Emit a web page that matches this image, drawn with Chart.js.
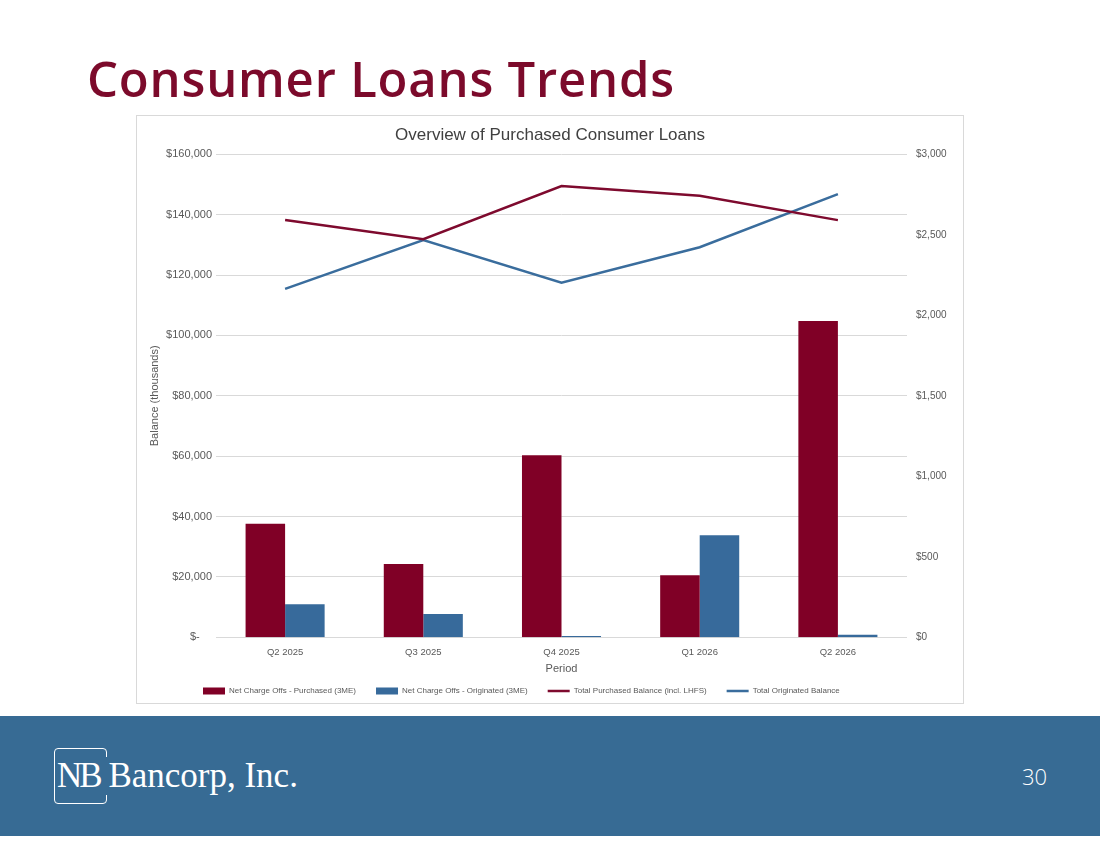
<!DOCTYPE html>
<html>
<head>
<meta charset="utf-8">
<script src="https://cdn.jsdelivr.net/npm/chart.js@4.4.1/dist/chart.umd.min.js"></script>
<style>
html,body{margin:0;padding:0;background:#fff;}
body{width:1100px;height:849px;position:relative;overflow:hidden;font-family:'Liberation Sans',Arial,sans-serif;}
#title{position:absolute;left:87px;top:48px;font-family:'Open Sans',sans-serif;font-weight:600;font-size:49px;line-height:60px;letter-spacing:0.8px;color:#7c0a2b;white-space:nowrap;}
#frame{position:absolute;left:136px;top:115px;width:828px;height:589px;box-sizing:border-box;border:1px solid #d9d9d9;}
#wrap{position:absolute;left:137px;top:116px;width:826px;height:587px;}
#band{position:absolute;left:0;top:716px;width:1100px;height:120px;background:#376b94;}
#logobox{position:absolute;left:54px;top:748px;width:53px;height:56px;box-sizing:border-box;border:1.5px solid #fff;border-radius:4px;}
#logomask{position:absolute;left:100px;top:757px;width:10px;height:38px;background:#376b94;}
#logo{position:absolute;left:57px;top:755px;font-family:'Liberation Serif','Times New Roman',serif;font-size:35px;line-height:42px;color:#fff;white-space:nowrap;}
#logo .nb{letter-spacing:-3px;}
#page{position:absolute;left:1022px;top:762px;font-family:'Open Sans',sans-serif;font-weight:300;font-size:22px;line-height:28px;color:#fff;}
</style>
</head>
<body>
<div id="title">Consumer Loans Trends</div>
<div id="frame"></div>
<div id="wrap"><canvas id="c"></canvas></div>
<div id="band"></div>
<div id="logobox"></div>
<div id="logomask"></div>
<div id="logo"><span class="nb">NB</span> Bancorp, Inc.</div>
<div id="page">30</div>
<script>
// ---- data ----
const categories = ['Q2 2025', 'Q3 2025', 'Q4 2025', 'Q1 2026', 'Q2 2026'];
const ncoPurchased = [706, 455, 1130, 385, 1965];
const ncoOriginated = [205, 145, 8, 634, 16];
const purchasedBalance = [138200, 131900, 149500, 146300, 138200];
const originatedBalance = [115400, 131600, 117500, 129200, 146800];
const leftTicks = [0, 20000, 40000, 60000, 80000, 100000, 120000, 140000, 160000];
const rightTicks = [0, 500, 1000, 1500, 2000, 2500, 3000];
const seriesNames = ['Net Charge Offs - Purchased (3ME)', 'Net Charge Offs - Originated (3ME)', 'Total Purchased Balance (incl. LHFS)', 'Total Originated Balance'];

const maroon = '#800026';
const blue = '#376a9b';

Chart.defaults.font.family = "'Liberation Sans', Arial, sans-serif";
Chart.defaults.color = '#595959';

const legendShift = {
  id: 'legendShift',
  afterLayout(chart) {
    const lg = chart.legend;
    if (!lg || !lg.lineWidths) return;
    const pad = lg.options.labels.padding;
    const start = (lg.left + pad + lg.right - lg.lineWidths[0]) / 2;
    const dx = 66 - start;
    lg.left += dx; lg.right += dx;
    lg.top = 551; lg.bottom = chart.height; lg.height = lg.bottom - lg.top;
  }
};

new Chart(document.getElementById('c'), {
  type: 'bar',
  data: {
    labels: categories,
    datasets: [
      { type: 'bar', label: seriesNames[0], data: ncoPurchased, backgroundColor: maroon, yAxisID: 'y1', categoryPercentage: 0.572, barPercentage: 1.0 },
      { type: 'bar', label: seriesNames[1], data: ncoOriginated, backgroundColor: blue, yAxisID: 'y1', categoryPercentage: 0.572, barPercentage: 1.0 },
      { type: 'line', label: seriesNames[2], data: purchasedBalance, borderColor: '#7e0a2e', backgroundColor: '#7e0a2e', borderWidth: 2.5, pointRadius: 0, tension: 0, yAxisID: 'y' },
      { type: 'line', label: seriesNames[3], data: originatedBalance, borderColor: '#3a6d9d', backgroundColor: '#3a6d9d', borderWidth: 2.5, pointRadius: 0, tension: 0, yAxisID: 'y' }
    ]
  },
  options: {
    responsive: true,
    maintainAspectRatio: false,
    animation: false,
    layout: { padding: 0 },
    plugins: {
      tooltip: { enabled: false },
      title: {
        display: true,
        text: 'Overview of Purchased Consumer Loans',
        color: '#404040',
        font: { size: 17, weight: 'normal' },
        padding: { top: 8.8, bottom: 9.1 }
      },
      legend: {
        position: 'bottom',
        maxHeight: 25.7,
        labels: {
          usePointStyle: true,
          pointStyleWidth: 22,
          boxHeight: 7,
          padding: 20,
          color: '#595959',
          font: { size: 8 },
          generateLabels(chart) {
            const items = Chart.defaults.plugins.legend.labels.generateLabels(chart);
            items.forEach(it => {
              const ds = chart.data.datasets[it.datasetIndex];
              if (ds.type === 'line') { it.pointStyle = 'line'; it.lineWidth = 2.5; }
              else { it.pointStyle = 'rect'; it.lineWidth = 0; }
            });
            return items;
          }
        }
      }
    },
    scales: {
      x: {
        grid: { display: false, drawTicks: false },
        border: { display: false },
        ticks: { font: { size: 9.5 }, padding: 9, color: '#595959' },
        title: { display: true, text: 'Period', font: { size: 11 }, color: '#595959', padding: { top: 0, bottom: 1.7 } },
        afterFit(s) { s.height = 40; }
      },
      y: {
        position: 'left',
        min: 0, max: 160000,
        afterBuildTicks(s) { s.ticks = leftTicks.map(v => ({ value: v })); },
        grid: { color: '#d9d9d9', lineWidth: 1, drawTicks: false },
        border: { display: false },
        ticks: {
          font: { size: 11 }, padding: 4, color: '#595959',
          callback: v => v === 0 ? '$-\u2007\u2007' : '$' + v.toLocaleString('en-US')
        },
        title: { display: true, text: 'Balance (thousands)', font: { size: 11 }, color: '#595959', padding: { top: 11.4, bottom: 0 } },
        afterFit(s) { s.width = 79; }
      },
      y1: {
        position: 'right',
        min: 0, max: 3000,
        afterBuildTicks(s) { s.ticks = rightTicks.map(v => ({ value: v })); },
        grid: { display: false, drawTicks: false },
        border: { display: false },
        ticks: {
          font: { size: 10 }, padding: 9, color: '#595959',
          callback: v => '$' + v.toLocaleString('en-US')
        },
        afterFit(s) { s.width = 56; }
      }
    }
  },
  plugins: [legendShift]
});
</script>
</body>
</html>
